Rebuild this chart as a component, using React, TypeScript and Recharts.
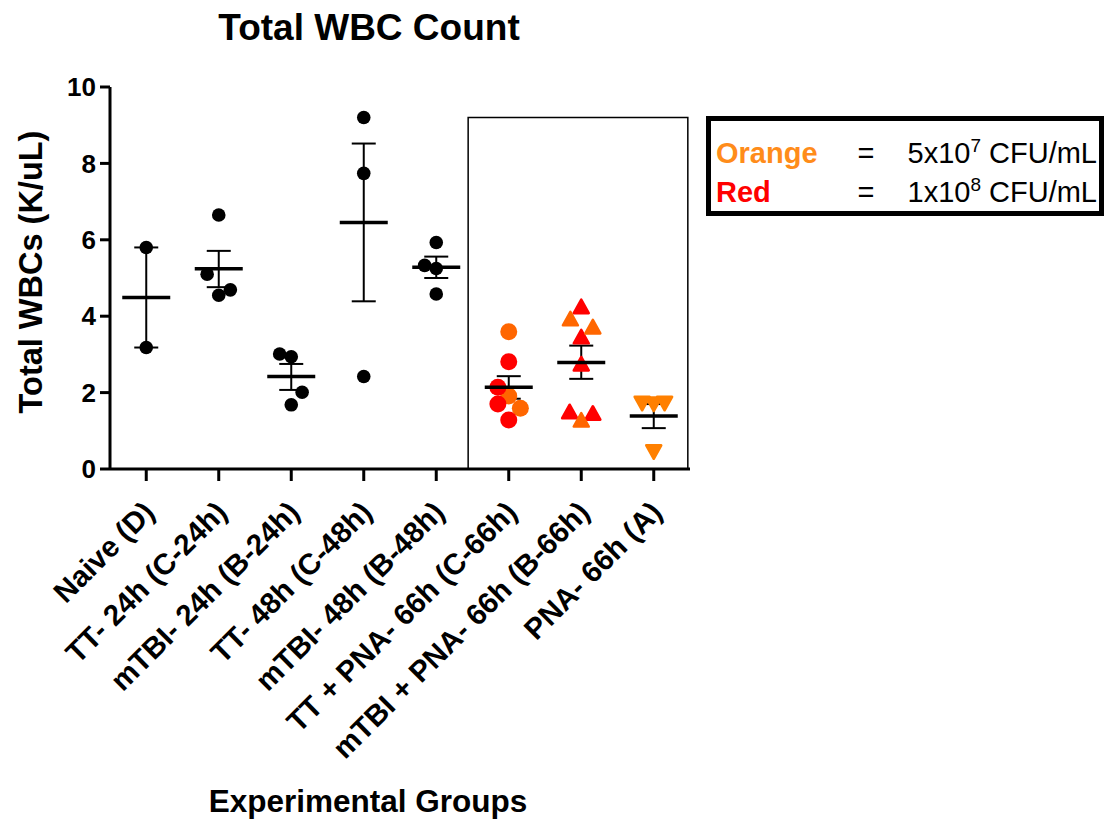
import React from 'react';
import { ComposedChart, Scatter, XAxis, YAxis, ErrorBar, ReferenceArea, Label } from 'recharts';

const FONT = '"Liberation Sans", Arial, Helvetica, sans-serif';

// ---- data ----
const groupLabels = [
  'Naive (D)',
  'TT- 24h (C-24h)',
  'mTBI- 24h (B-24h)',
  'TT- 48h (C-48h)',
  'mTBI- 48h (B-48h)',
  'TT + PNA- 66h (C-66h)',
  'mTBI + PNA- 66h (B-66h)',
  'PNA- 66h (A)',
];
const yTicks = [0, 2, 4, 6, 8, 10];

// black dots, groups 0..4 (values and horizontal jitter in category units)
const blackValues = [
  [5.8, 3.18],
  [6.65, 5.1, 4.55, 4.69],
  [3.01, 2.94, 2.01, 1.68],
  [9.2, 7.74, 2.42],
  [5.93, 5.33, 5.25, 4.58],
];
const blackJitter = [
  [0, 0],
  [0, -0.16, 0, 0.16],
  [-0.16, 0, 0.15, 0],
  [0, 0, 0],
  [0, -0.16, 0, 0],
];

// TT + PNA- 66h (group 5): circles
const ttPnaRed = [2.81, 2.14, 1.7, 1.28];
const ttPnaRedJitter = [0, -0.15, -0.15, 0];
const ttPnaOrange = [3.59, 1.91, 1.59];
const ttPnaOrangeJitter = [0, 0, 0.16];

// mTBI + PNA- 66h (group 6): triangles
const mtbiPnaRed = [4.25, 3.46, 2.75, 1.5, 1.46];
const mtbiPnaRedJitter = [0, 0, 0, -0.16, 0.16];
const mtbiPnaOrange = [3.93, 3.72, 1.28];
const mtbiPnaOrangeJitter = [-0.15, 0.16, 0];

// PNA- 66h (group 7): down triangles
const pnaOrange = [1.72, 1.72, 1.7, 0.45];
const pnaOrangeJitter = [-0.16, 0.15, 0, 0];

// group mean and SEM bounds
const groupMeans = [4.49, 5.24, 2.42, 6.45, 5.28, 2.14, 2.79, 1.39];
const semLow = [3.18, 4.76, 2.07, 4.39, 5.0, 1.84, 2.36, 1.07];
const semHigh = [5.8, 5.71, 2.75, 8.52, 5.56, 2.43, 3.23, 1.7];

// bounding box around 66h groups (data units)
const boxX1 = 4.44;
const boxX2 = 7.47;
const boxTop = 9.2;

// ---- derived ----
const toPoints = (group: number, values: number[], jitter: number[]) =>
  values.map((v, k) => ({ x: group + jitter[k], y: v }));

const blackPoints = blackValues.flatMap((vals, g) => toPoints(g, vals, blackJitter[g]));
const ttPnaRedPts = toPoints(5, ttPnaRed, ttPnaRedJitter);
const ttPnaOrangePts = toPoints(5, ttPnaOrange, ttPnaOrangeJitter);
const mtbiPnaRedPts = toPoints(6, mtbiPnaRed, mtbiPnaRedJitter);
const mtbiPnaOrangePts = toPoints(6, mtbiPnaOrange, mtbiPnaOrangeJitter);
const pnaOrangePts = toPoints(7, pnaOrange, pnaOrangeJitter);
const meanData = groupMeans.map((m, i) => ({ x: i, y: m, err: [m - semLow[i], semHigh[i] - m] }));

const RED = '#FF0000';
const ORANGE = '#FF6600';
const ORANGE2 = '#FF8000';

// ---- shapes ----
const blackDot = (p: any) => <circle cx={p.cx} cy={p.cy} r={6.8} fill="#000" />;
const bigDot = (color: string) => (p: any) => <circle cx={p.cx} cy={p.cy} r={8.5} fill={color} />;
const upTri = (color: string) => (p: any) => {
  const { cx, cy } = p;
  return (
    <path
      d={`M${cx},${cy - 7} L${cx + 7.5},${cy + 6.5} L${cx - 7.5},${cy + 6.5} Z`}
      fill={color}
      stroke={color}
      strokeWidth={2.5}
      strokeLinejoin="round"
    />
  );
};
const downTri = (color: string) => (p: any) => {
  const { cx, cy } = p;
  return (
    <path
      d={`M${cx},${cy + 7} L${cx + 7.5},${cy - 6.5} L${cx - 7.5},${cy - 6.5} Z`}
      fill={color}
      stroke={color}
      strokeWidth={2.5}
      strokeLinejoin="round"
    />
  );
};
const meanLine = (p: any) => (
  <line x1={p.cx - 24} x2={p.cx + 24} y1={p.cy} y2={p.cy} stroke="#000" strokeWidth={3.5} />
);

const XTick = (props: any) => {
  const { x, y, payload } = props;
  const ax = x + 10;
  const ay = y + 31;
  return (
    <text
      x={ax}
      y={ay}
      transform={`rotate(-45, ${ax}, ${ay})`}
      textAnchor="end"
      fontSize={29.5}
      fontWeight="bold"
      fontFamily={FONT}
      fill="#000"
    >
      {groupLabels[payload.value]}
    </text>
  );
};

const YLabel = (props: any) => {
  const cx = 42;
  const cy = 272;
  return (
    <text
      x={cx}
      y={cy}
      transform={`rotate(-90, ${cx}, ${cy})`}
      textAnchor="middle"
      fontSize={32.5}
      fontWeight="bold"
      fontFamily={FONT}
      fill="#000"
    >
      Total WBCs (K/uL)
    </text>
  );
};

export default function App() {
  return (
    <div style={{ position: 'absolute', left: 0, top: 0, width: 1107, height: 823, background: '#fff', fontFamily: FONT }}>
      <ComposedChart width={1107} height={823} margin={{ top: 87, right: 417, bottom: 0, left: 0 }}>
        <XAxis
          type="number"
          dataKey="x"
          domain={[-0.5, 7.5]}
          ticks={[0, 1, 2, 3, 4, 5, 6, 7]}
          interval={0}
          height={354}
          axisLine={{ stroke: '#000', strokeWidth: 3 }}
          tickLine={{ stroke: '#000', strokeWidth: 3 }}
          tickSize={12}
          tick={<XTick />}
          allowDataOverflow
        />
        <YAxis
          type="number"
          dataKey="y"
          domain={[0, 10]}
          ticks={yTicks}
          interval={0}
          width={110}
          axisLine={{ stroke: '#000', strokeWidth: 3 }}
          tickLine={{ stroke: '#000', strokeWidth: 3 }}
          tickSize={10}
          tickMargin={4}
          tick={{ fontSize: 26, fontWeight: 'bold', fill: '#000', fontFamily: FONT }}
          allowDataOverflow
        >
          <Label content={<YLabel />} />
        </YAxis>
        <ReferenceArea
          x1={boxX1}
          x2={boxX2}
          y1={0}
          y2={boxTop}
          fill="none"
          fillOpacity={0}
          stroke="#000"
          strokeWidth={1.5}
          ifOverflow="visible"
        />
        <Scatter data={blackPoints} shape={blackDot} isAnimationActive={false} />
        <Scatter data={ttPnaOrangePts} shape={bigDot(ORANGE)} isAnimationActive={false} />
        <Scatter data={ttPnaRedPts} shape={bigDot(RED)} isAnimationActive={false} />
        <Scatter data={mtbiPnaRedPts} shape={upTri(RED)} isAnimationActive={false} />
        <Scatter data={mtbiPnaOrangePts} shape={upTri(ORANGE)} isAnimationActive={false} />
        <Scatter data={pnaOrangePts} shape={downTri(ORANGE2)} isAnimationActive={false} />
        <Scatter data={meanData} shape={meanLine} isAnimationActive={false}>
          <ErrorBar dataKey="err" direction="y" width={12} stroke="#000" strokeWidth={2} />
        </Scatter>
      </ComposedChart>

      <div
        style={{
          position: 'absolute',
          left: 0,
          top: 9,
          width: 738,
          textAlign: 'center',
          fontSize: 37,
          lineHeight: '37px',
          fontWeight: 'bold',
          color: '#000',
        }}
      >
        Total WBC Count
      </div>

      <div
        style={{
          position: 'absolute',
          left: 168,
          top: 786,
          width: 400,
          textAlign: 'center',
          fontSize: 31.5,
          lineHeight: '31px',
          fontWeight: 'bold',
          color: '#000',
        }}
      >
        Experimental Groups
      </div>

      <div
        style={{
          position: 'absolute',
          left: 706,
          top: 116,
          width: 398,
          height: 100,
          border: '5px solid #000',
          boxSizing: 'border-box',
          background: '#fff',
        }}
      />
      <div style={{ position: 'absolute', left: 716, top: 139, fontSize: 29, lineHeight: '29px', fontWeight: 'bold', color: '#FF8C1A' }}>
        Orange
      </div>
      <div style={{ position: 'absolute', left: 716, top: 178, fontSize: 29, lineHeight: '29px', fontWeight: 'bold', color: '#FF0000' }}>
        Red
      </div>
      <div style={{ position: 'absolute', left: 851, width: 30, textAlign: 'center', top: 139, fontSize: 29, lineHeight: '29px', color: '#000' }}>
        =
      </div>
      <div style={{ position: 'absolute', left: 851, width: 30, textAlign: 'center', top: 178, fontSize: 29, lineHeight: '29px', color: '#000' }}>
        =
      </div>
      <div style={{ position: 'absolute', right: 1107 - 1097, top: 139, fontSize: 29, lineHeight: '29px', color: '#000', whiteSpace: 'nowrap' }}>
        5x10<span style={{ fontSize: 19, position: 'relative', top: -11 }}>7</span> CFU/mL
      </div>
      <div style={{ position: 'absolute', right: 1107 - 1097, top: 178, fontSize: 29, lineHeight: '29px', color: '#000', whiteSpace: 'nowrap' }}>
        1x10<span style={{ fontSize: 19, position: 'relative', top: -11 }}>8</span> CFU/mL
      </div>
    </div>
  );
}
